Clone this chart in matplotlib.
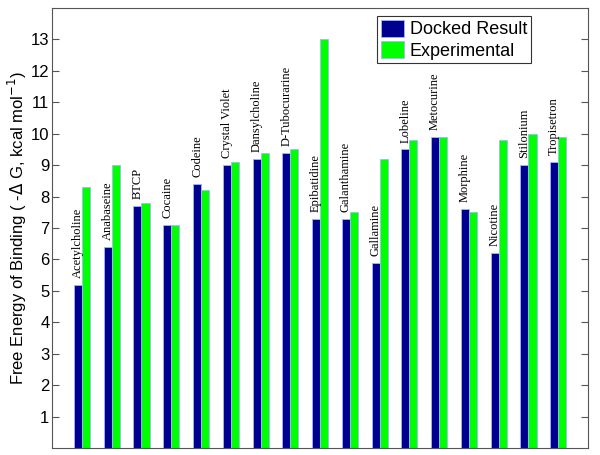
import numpy as np
import matplotlib
matplotlib.use('Agg')
import matplotlib.pyplot as plt

# compounds and binding energies (-dG, kcal/mol)
compounds = ['Acetylcholine', 'Anabaseine', 'BTCP', 'Cocaine', 'Codeine',
             'Crystal Violet', 'Dansylcholine', 'D-Tubocurarine', 'Epibatidine',
             'Galanthamine', 'Gallamine', 'Lobeline', 'Metocurine', 'Morphine',
             'Nicotine', 'Stilonium', 'Tropisetron']
docked = [5.2, 6.4, 7.7, 7.1, 8.4, 9.0, 9.2, 9.4, 7.3, 7.3, 5.9, 9.5, 9.9,
          7.6, 6.2, 9.0, 9.1]
experimental = [8.3, 9.0, 7.8, 7.1, 8.2, 9.1, 9.4, 9.5, 13.0, 7.5, 9.2, 9.8,
                9.9, 7.5, 9.8, 10.0, 9.9]
yticks = list(range(1, 14))

fig = plt.figure(figsize=(6, 4.55), dpi=100)
ax = fig.add_axes([0.087, 0.0154, 0.893, 0.967])

x = np.arange(1, len(compounds) + 1)
w = 0.27
ax.bar(x - w / 2, docked, w, color='#000090', edgecolor='#9db8ff',
       linewidth=0.6, label='Docked Result')
ax.bar(x + w / 2, experimental, w, color='#00ff00', edgecolor='#9db8ff',
       linewidth=0.6, label='Experimental')

# compound names above the docked bars
for xi, d, name in zip(x, docked, compounds):
    ax.text(xi - w / 2, d + 0.22, name, rotation=90, ha='center', va='bottom',
            fontsize=9, family='Liberation Serif')

ax.set_xlim(0, 18)
ax.set_ylim(0, 14)
ax.set_xticks([])
ax.set_yticks(yticks)
ax.tick_params(axis='y', direction='in', length=5, right=True, pad=2,
               labelsize=12, color='#555555')
for lab in ax.get_yticklabels():
    lab.set_family('Liberation Sans')
for s in ax.spines.values():
    s.set_color('#555555')
    s.set_linewidth(0.8)

ax.set_ylabel('Free Energy of Binding ( -$\\Delta$ G, kcal mol$^{-1}$)',
              fontsize=12, family='Liberation Sans', labelpad=1)

leg = ax.legend(loc='upper right', bbox_to_anchor=(0.893, 0.982),
                fancybox=False, framealpha=1, edgecolor='#333333',
                prop={'family': 'Liberation Sans', 'size': 13},
                handlelength=1.3, handleheight=1.1, handletextpad=0.3,
                borderpad=0.2, labelspacing=0.15, borderaxespad=0)
leg.get_frame().set_linewidth(0.8)

fig.savefig('out.png', dpi=100)
